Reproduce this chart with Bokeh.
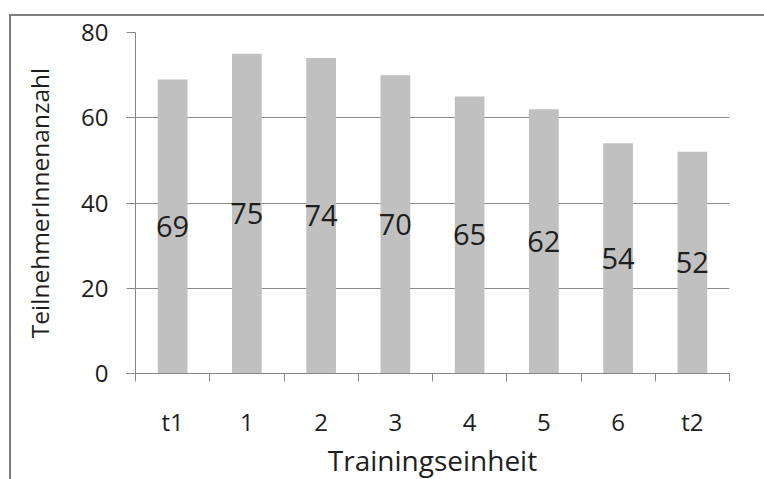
from bokeh.plotting import figure
from bokeh.models import Range1d, FixedTicker, ColumnDataSource, LabelSet
from bokeh.core.properties import value
from bokeh.embed import file_html
from bokeh.resources import INLINE

# Teilnehmende je Trainingseinheit
categories = ["t1", "1", "2", "3", "4", "5", "6", "t2"]
participants = [69, 75, 74, 70, 65, 62, 54, 52]
y_ticks = [0, 20, 40, 60, 80]

FONT = "Open Sans"
TEXT = "#1e1e1e"
AXIS = "#868686"

# each category occupies one unit slot; bars sit in the middle of the slot
slot_centers = [i + 0.5 for i in range(len(categories))]
slot_edges = list(range(len(categories) + 1))

source = ColumnDataSource(dict(
    x=slot_centers,
    top=participants,
    mid=[v / 2 for v in participants],
    label=[str(v) for v in participants],
))

p = figure(
    frame_width=594, frame_height=341,
    x_range=Range1d(0, len(categories)),
    y_range=Range1d(y_ticks[0], y_ticks[-1]),
    output_backend="svg",
    toolbar_location=None,
    min_border_left=124, min_border_right=35,
    min_border_top=16, min_border_bottom=90,
    background_fill_color="white",
    border_fill_color="white",
    styles={
        "margin-left": "9px",
        "margin-top": "14px",
        "border-left": "2px solid #7f7f7f",
        "border-top": "2px solid #7f7f7f",
    },
)
p.outline_line_color = None

p.vbar(x="x", top="top", bottom=0, width=0.4, source=source,
       fill_color="#c0c0c0", line_color=None)

labels = LabelSet(x="x", y="mid", text="label", source=source,
                  text_align="center", text_baseline="middle",
                  text_font=value(FONT), text_font_size="29px",
                  text_color=TEXT)
p.add_layout(labels)

# y axis
p.yaxis.ticker = FixedTicker(ticks=y_ticks)
p.yaxis.axis_label = "TeilnehmerInnenanzahl"
p.yaxis.axis_label_text_font_size = "24.5px"
p.yaxis.axis_line_color = AXIS
p.yaxis.major_tick_line_color = AXIS
p.yaxis.major_tick_in = 0
p.yaxis.major_tick_out = 9
p.yaxis.minor_tick_line_color = None
p.yaxis.major_label_standoff = 18
p.yaxis.axis_label_standoff = 22

# x axis: labels at slot centres, tick marks at slot edges
p.xaxis.ticker = FixedTicker(ticks=slot_centers, minor_ticks=slot_edges)
p.xaxis.major_label_overrides = {c: lab for c, lab in zip(slot_centers, categories)}
p.xaxis.axis_label = "Trainingseinheit"
p.xaxis.axis_label_text_font_size = "28px"
p.xaxis.axis_line_color = AXIS
p.xaxis.major_tick_line_color = None
p.xaxis.major_tick_in = 0
p.xaxis.major_tick_out = 0
p.xaxis.minor_tick_line_color = AXIS
p.xaxis.minor_tick_in = 0
p.xaxis.minor_tick_out = 8
p.xaxis.major_label_standoff = 23
p.xaxis.axis_label_standoff = 0

for ax in (p.xaxis, p.yaxis):
    ax.major_label_text_font = FONT
    ax.major_label_text_font_size = "24px"
    ax.major_label_text_color = TEXT
    ax.axis_label_text_font = FONT
    ax.axis_label_text_font_style = "normal"
    ax.axis_label_text_color = TEXT

p.xgrid.grid_line_color = None
p.ygrid.grid_line_color = "#8c8c8c"
p.ygrid.grid_line_width = 1

open("out.html", "w").write(file_html(p, INLINE))
